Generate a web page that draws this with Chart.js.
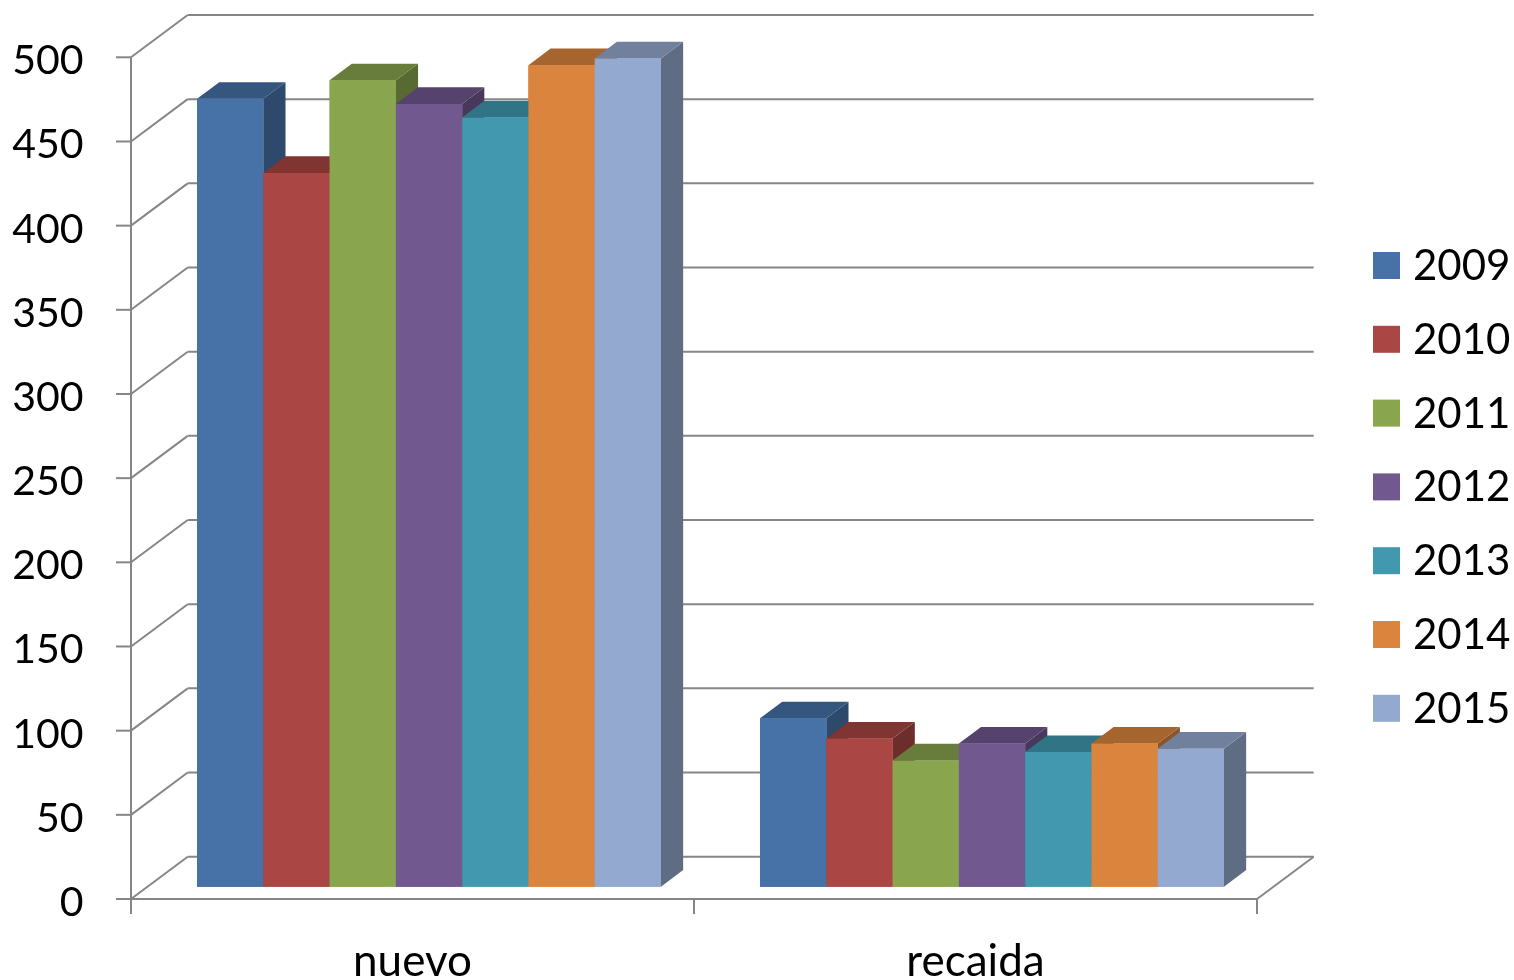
<!DOCTYPE html>
<html>
<head>
<meta charset="utf-8">
<script src="https://cdn.jsdelivr.net/npm/chart.js@4.4.1/dist/chart.umd.min.js"></script>
<style>
  html, body { margin: 0; padding: 0; background: #ffffff; overflow: hidden; }
  canvas { display: block; }
</style>
</head>
<body>
<canvas id="chart" width="1514" height="980"></canvas>
<script>
// Categories and yearly series
const categories = ['nuevo', 'recaida'];
const years = ['2009', '2010', '2011', '2012', '2013', '2014', '2015'];
const values2009 = [468, 100];
const values2010 = [424, 88];
const values2011 = [479, 75];
const values2012 = [465, 85];
const values2013 = [457, 80];
const values2014 = [488, 85];
const values2015 = [492, 82];
const yTicks = [0, 50, 100, 150, 200, 250, 300, 350, 400, 450, 500];

const seriesValues = [values2009, values2010, values2011, values2012, values2013, values2014, values2015];
const seriesColors = ['#4672A7', '#AA4643', '#89A54E', '#71588F', '#4198AF', '#DB843D', '#93A9CF'];

const FONT = 'Lato, "Open Sans", sans-serif';
const LINE = 'rgb(134,134,134)';

// Oblique offsets of the 3D box: bar plane -> front wall, bar plane -> back wall, bar depth
const DEPTH = { frontDx: -16.5, frontDy: 12.3, backDx: 40.2, backDy: -30, barDx: 22.2, barDy: -16.6 };

function shade(hex, k) {
  const n = parseInt(hex.slice(1), 16);
  const r = Math.round(((n >> 16) & 255) * k);
  const g = Math.round(((n >> 8) & 255) * k);
  const b = Math.round((n & 255) * k);
  return `rgb(${r},${g},${b})`;
}

function line(ctx, x1, y1, x2, y2) {
  ctx.beginPath();
  ctx.moveTo(x1, y1);
  ctx.lineTo(x2, y2);
  ctx.stroke();
}

// Walls, floor, axis lines, bar tops/sides and the legend
const box3d = {
  id: 'box3d',
  beforeDatasetsDraw(chart) {
    const { ctx, chartArea: a, scales: { y } } = chart;
    const D = DEPTH;
    ctx.save();
    ctx.strokeStyle = LINE;
    ctx.lineWidth = 2;
    ctx.lineCap = 'butt';
    const fx = a.left + D.frontDx;
    const bx = a.left + D.backDx;
    yTicks.forEach(v => {
      const py = y.getPixelForValue(v);
      // side wall diagonal
      line(ctx, fx, py + D.frontDy, bx, py + D.backDy);
      // back wall gridline
      line(ctx, bx, py + D.backDy, a.right + D.backDx, py + D.backDy);
      // tick mark on the front axis
      line(ctx, fx - 15, py + D.frontDy, fx, py + D.frontDy);
    });
    const y0 = y.getPixelForValue(0);
    const yMax = y.getPixelForValue(yTicks[yTicks.length - 1]);
    // front vertical axis
    line(ctx, fx, yMax + D.frontDy, fx, y0 + D.frontDy + 15);
    // front floor edge
    line(ctx, fx, y0 + D.frontDy, a.right + D.frontDx, y0 + D.frontDy);
    // right floor edge
    line(ctx, a.right + D.frontDx, y0 + D.frontDy, a.right + D.backDx, y0 + D.backDy);
    // category separators
    const mid = (a.left + a.right) / 2;
    [mid, a.right].forEach(x => line(ctx, x + D.frontDx, y0 + D.frontDy, x + D.frontDx, y0 + D.frontDy + 15));
    ctx.restore();
  },
  afterDatasetsDraw(chart) {
    // Paint the boxes left to right within each group: side, top, then the bar's front face
    const { ctx, chartArea } = chart;
    const D = DEPTH;
    chart.data.datasets.forEach((ds, i) => {
      const meta = chart.getDatasetMeta(i);
      const topColor = shade(seriesColors[i], 0.76);
      const sideColor = shade(seriesColors[i], 0.64);
      meta.data.forEach(bar => {
        const { x, y, base, width } = bar.getProps(['x', 'y', 'base', 'width'], true);
        const l = x - width / 2;
        const r = x + width / 2;
        ctx.save();
        ctx.fillStyle = sideColor;
        ctx.beginPath();
        ctx.moveTo(r, y);
        ctx.lineTo(r + D.barDx, y + D.barDy);
        ctx.lineTo(r + D.barDx, base + D.barDy);
        ctx.lineTo(r, base);
        ctx.closePath();
        ctx.fill();
        ctx.fillStyle = topColor;
        ctx.beginPath();
        ctx.moveTo(l, y);
        ctx.lineTo(l + D.barDx, y + D.barDy);
        ctx.lineTo(r + D.barDx, y + D.barDy);
        ctx.lineTo(r, y);
        ctx.closePath();
        ctx.fill();
        ctx.restore();
        bar.draw(ctx, chartArea);
      });
    });
  },
  afterDraw(chart) {
    const { ctx } = chart;
    ctx.save();
    ctx.font = `42px ${FONT}`;
    ctx.textBaseline = 'middle';
    ctx.textAlign = 'left';
    chart.data.datasets.forEach((ds, i) => {
      const cy = 265.5 + i * 73.8;
      ctx.fillStyle = ds.backgroundColor;
      ctx.fillRect(1373, cy - 13.5, 27, 27);
      ctx.fillStyle = '#000000';
      ctx.fillText(ds.label, 1413, cy + 1);
    });
    ctx.restore();
  }
};

new Chart(document.getElementById('chart'), {
  type: 'bar',
  data: {
    labels: categories,
    datasets: years.map((yr, i) => ({
      label: yr,
      data: seriesValues[i],
      backgroundColor: seriesColors[i],
      borderWidth: 0,
      categoryPercentage: 0.824,
      barPercentage: 1.0,
      clip: false
    }))
  },
  options: {
    responsive: false,
    animation: false,
    devicePixelRatio: 1,
    layout: { autoPadding: false, padding: { left: 0, right: 240.5, top: 45, bottom: 0 } },
    plugins: { legend: { display: false }, tooltip: { enabled: false } },
    scales: {
      x: {
        grid: { display: false, drawTicks: false },
        border: { display: false },
        ticks: {
          font: { family: FONT, size: 44 },
          color: '#000000',
          padding: 49,
          labelOffset: DEPTH.frontDx,
          maxRotation: 0,
          autoSkip: false
        },
        afterFit(s) { s.height = 93.3; s.paddingLeft = 0; s.paddingRight = 0; }
      },
      y: {
        min: 0,
        max: 500,
        afterBuildTicks(s) { s.ticks = yTicks.map(v => ({ value: v })); },
        grid: { display: false, drawTicks: false },
        border: { display: false },
        ticks: {
          font: { family: FONT, size: 41 },
          color: '#000000',
          padding: 64,
          labelOffset: 16
        },
        afterFit(s) { s.width = 147.5; s.paddingTop = 0; s.paddingBottom = 0; }
      }
    }
  },
  plugins: [box3d]
});
</script>
</body>
</html>
